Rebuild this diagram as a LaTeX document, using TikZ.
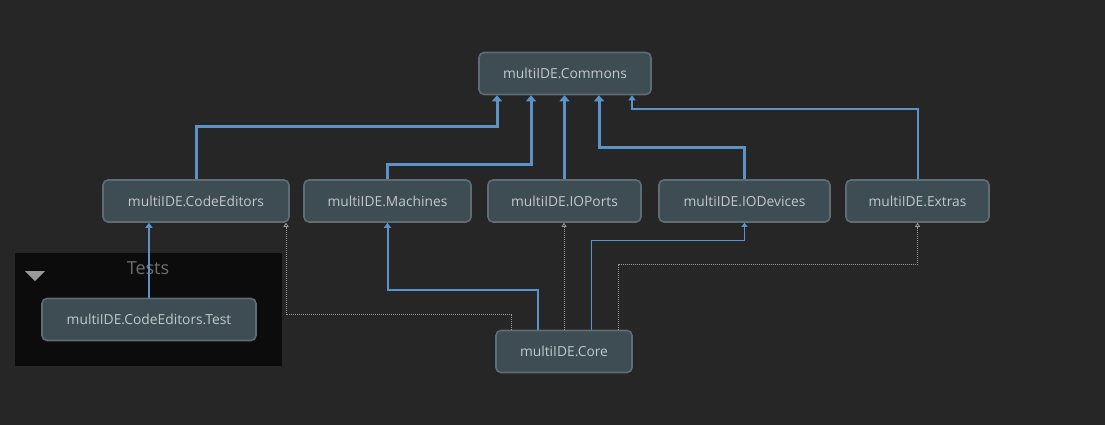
\documentclass[tikz,border=0pt]{standalone}
\usepackage{fontspec}
\setmainfont{Open Sans}
\usetikzlibrary{arrows.meta}
\definecolor{bg}{HTML}{262626}
\definecolor{nodefill}{HTML}{3E4D54}
\definecolor{nodeborder}{HTML}{5E6C73}
\definecolor{nodetext}{HTML}{C2C8CB}
\definecolor{depblue}{HTML}{5B93C8}
\definecolor{dotgray}{HTML}{9A9A9A}
\definecolor{groupfill}{HTML}{0C0C0C}
\definecolor{grouptext}{HTML}{6E6E6E}
\tikzset{
  modbox/.style={draw=nodeborder, line width=1.6pt, fill=nodefill, rounded corners=5pt,
    minimum height=42pt, inner sep=0pt, text=nodetext, font=\fontsize{13.8}{16}\selectfont},
  depthick/.style={draw=depblue, line width=3pt, -{Triangle[length=6pt,width=10pt]}},
  depmid/.style={draw=depblue, line width=2pt, -{Triangle[length=5pt,width=7pt]}},
  depthin/.style={draw=depblue, line width=1pt, -{Triangle[length=4pt,width=6pt]}},
  depdot/.style={draw=dotgray, line width=1pt, dash pattern=on 1pt off 1pt,
    -{Triangle[open,length=4pt,width=5pt,line width=0.8pt]}},
}
\begin{document}
\begin{tikzpicture}[x=1pt,y=-1pt]
\useasboundingbox[fill=bg] (0,0) rectangle (1105,425);
% group
\fill[groupfill] (15,253) rectangle (282,366);
\node[text=grouptext, font=\fontsize{18}{20}\selectfont] (glabel) at (148,268) {Tests};
\fill[dotgray] (25,271) -- (45,271) -- (35,281) -- cycle;
% nodes
\node[modbox, minimum width=172pt] (cm) at (565,73.5) {multiIDE.Commons};
\draw[black!70!gray, line width=1pt, dash pattern=on 1pt off 1pt] (477,50.5) rectangle (653,96.5);
\node[modbox, minimum width=186pt] (ce) at (196,201) {multiIDE.CodeEditors};
\node[modbox, minimum width=167pt] (ma) at (387.5,201) {multiIDE.Machines};
\node[modbox, minimum width=153pt] (io) at (564.5,201) {multiIDE.IOPorts};
\node[modbox, minimum width=171pt] (dv) at (744.5,201) {multiIDE.IODevices};
\node[modbox, minimum width=143pt] (ex) at (917.5,201) {multiIDE.Extras};
\node[modbox, minimum width=214pt] (te) at (149,319.5) {multiIDE.CodeEditors.Test};
\node[modbox, minimum width=136pt] (co) at (564,351.5) {multiIDE.Core};
% dependencies to Commons
\draw[depthick] (ce.north) -- ++(0,-53) -| ([xshift=-68pt]cm.south);
\draw[depthick] (ma.north) -- ++(0,-15) -| ([xshift=-34pt]cm.south);
\draw[depthick] (io.north) -- (io.north |- cm.south);
\draw[depthick] (dv.north) -- ++(0,-32) -| ([xshift=34pt]cm.south);
\draw[depmid] (ex.north) -- ++(0,-70) -| ([xshift=67pt]cm.south);
% test
\draw[depmid] (te.north) -- (te.north |- ce.south);
% from Core
\draw[depmid] ([xshift=-26pt]co.north) -- ++(0,-40) -| (ma.south);
\draw[depdot] ([xshift=-53pt]co.north) -- ++(0,-15) -| ([xshift=90pt]ce.south);
\draw[depdot] (co.north) -- (co.north |- io.south);
\draw[depthin] ([xshift=27pt]co.north) -- ++(0,-89) -| (dv.south);
\draw[depdot] ([xshift=54pt]co.north) -- ++(0,-65) -| (ex.south);
\end{tikzpicture}
\end{document}
